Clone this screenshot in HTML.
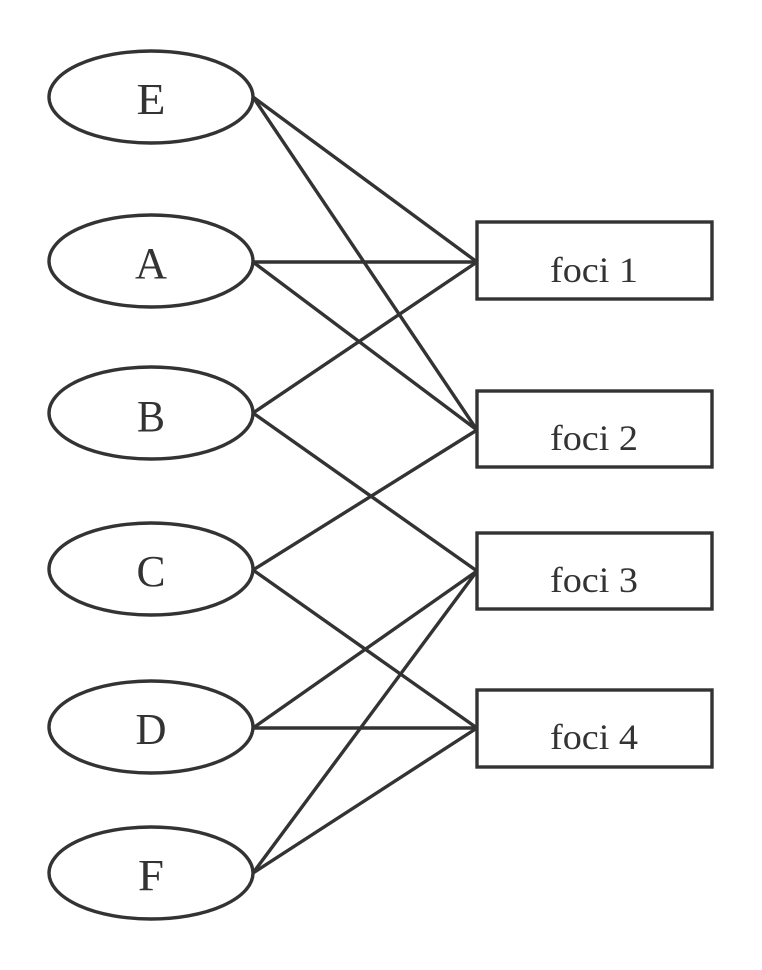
<!DOCTYPE html>
<html><head><style>body{margin:0;background:#fff}</style></head><body>
<svg width="762" height="970" xmlns="http://www.w3.org/2000/svg" style="display:block">
<g fill="none" stroke="#333" stroke-width="3.4">
<ellipse cx="151" cy="97" rx="102" ry="46"/>
<ellipse cx="151" cy="261" rx="102" ry="46"/>
<ellipse cx="151" cy="413" rx="102" ry="46"/>
<ellipse cx="151" cy="569" rx="102" ry="46"/>
<ellipse cx="151" cy="727" rx="102" ry="46"/>
<ellipse cx="151" cy="873" rx="102" ry="46"/>
<rect x="477" y="222" width="235" height="77"/>
<rect x="477" y="391" width="235" height="76"/>
<rect x="477" y="533" width="235" height="76"/>
<rect x="477" y="690" width="235" height="77"/>
<line x1="253" y1="97" x2="477" y2="262"/>
<line x1="253" y1="97" x2="477" y2="430"/>
<line x1="253" y1="262" x2="477" y2="262"/>
<line x1="253" y1="262" x2="477" y2="430"/>
<line x1="253" y1="413" x2="477" y2="262"/>
<line x1="253" y1="413" x2="477" y2="571"/>
<line x1="253" y1="570" x2="477" y2="430"/>
<line x1="253" y1="570" x2="477" y2="728"/>
<line x1="253" y1="728" x2="477" y2="571"/>
<line x1="253" y1="728" x2="477" y2="728"/>
<line x1="253" y1="873" x2="477" y2="571"/>
<line x1="253" y1="873" x2="477" y2="728"/>
</g>
<g font-family="'Liberation Serif', 'Times New Roman', serif" font-size="44" fill="#333" text-anchor="middle">
<text x="151" y="114" textLength="29" lengthAdjust="spacingAndGlyphs">E</text>
<text x="151" y="278" textLength="32" lengthAdjust="spacingAndGlyphs">A</text>
<text x="151" y="431" textLength="28" lengthAdjust="spacingAndGlyphs">B</text>
<text x="151" y="586" textLength="29" lengthAdjust="spacingAndGlyphs">C</text>
<text x="151" y="744" textLength="31" lengthAdjust="spacingAndGlyphs">D</text>
<text x="151" y="890" textLength="26" lengthAdjust="spacingAndGlyphs">F</text>
</g>
<g font-family="'Liberation Serif', 'Times New Roman', serif" font-size="36" fill="#333" text-anchor="middle">
<text x="594" y="282" textLength="88" lengthAdjust="spacingAndGlyphs">foci 1</text>
<text x="594" y="450" textLength="88" lengthAdjust="spacingAndGlyphs">foci 2</text>
<text x="594" y="592" textLength="88" lengthAdjust="spacingAndGlyphs">foci 3</text>
<text x="594" y="749" textLength="88" lengthAdjust="spacingAndGlyphs">foci 4</text>
</g>
</svg>
</body></html>
